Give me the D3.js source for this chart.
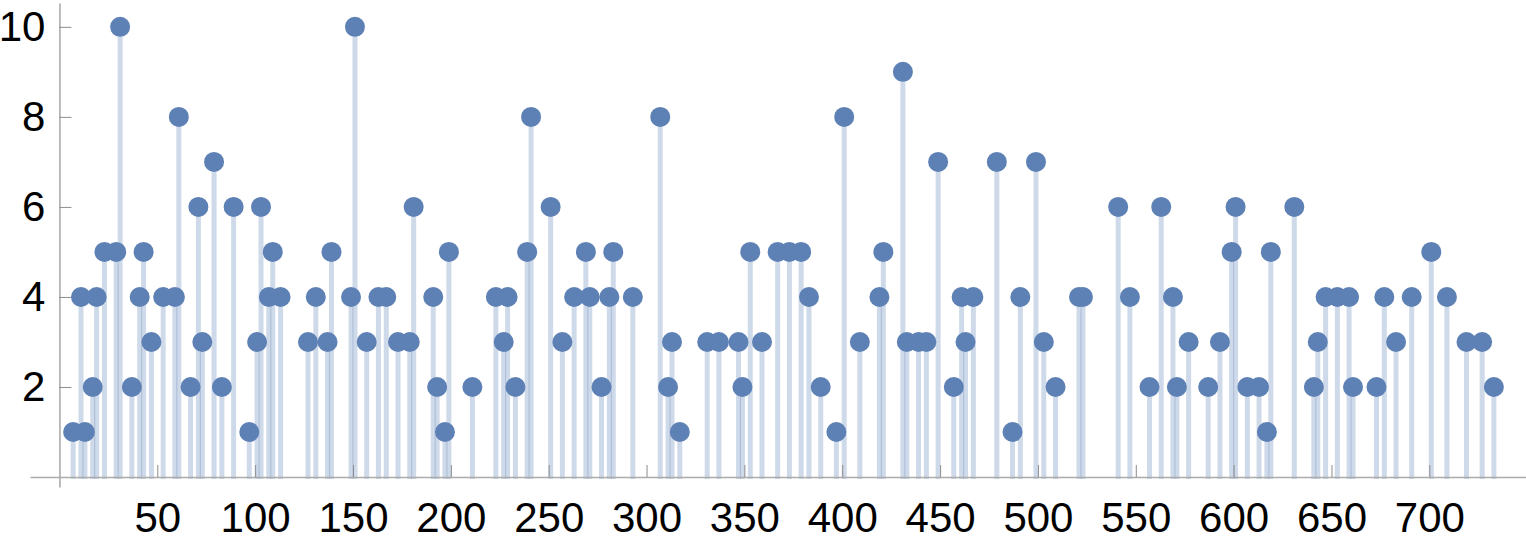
<!DOCTYPE html>
<html>
<head>
<meta charset="utf-8">
<script src="https://cdn.jsdelivr.net/npm/d3@7"></script>
<style>
  body { margin: 0; background: #fff; }
  svg { display: block; }
  .axis text { font-family: "Liberation Sans", Arial, sans-serif; font-size: 42px; fill: #000; }
</style>
</head>
<body>
<svg id="chart" width="1526" height="545"></svg>
<script>
// primes 7..733 and the stem heights
const primes = [7, 11, 13, 17, 19, 23, 29, 31, 37, 41, 43, 47, 53, 59, 61, 67, 71, 73, 79, 83, 89, 97,
  101, 103, 107, 109, 113, 127, 131, 137, 139, 149, 151, 157, 163, 167, 173, 179, 181, 191, 193, 197, 199,
  211, 223, 227, 229, 233, 239, 241, 251, 257, 263, 269, 271, 277, 281, 283, 293,
  307, 311, 313, 317, 331, 337, 347, 349, 353, 359, 367, 373, 379, 383, 389, 397,
  401, 409, 419, 421, 431, 433, 439, 443, 449, 457, 461, 463, 467, 479, 487, 491, 499,
  503, 509, 521, 523, 541, 547, 557, 563, 569, 571, 577, 587, 593, 599,
  601, 607, 613, 617, 619, 631, 641, 643, 647, 653, 659, 661, 673, 677, 683, 691,
  701, 709, 719, 727, 733];
const heights = [1, 4, 1, 2, 4, 5, 5, 10, 2, 4, 5, 3, 4, 4, 8, 2, 6, 3, 7, 2, 6, 1,
  3, 6, 4, 5, 4, 3, 4, 3, 5, 4, 10, 3, 4, 4, 3, 3, 6, 4, 2, 1, 5,
  2, 4, 3, 4, 2, 5, 8, 6, 3, 4, 5, 4, 2, 4, 5, 4,
  8, 2, 3, 1, 3, 3, 3, 2, 5, 3, 5, 5, 5, 4, 2, 1,
  8, 3, 4, 5, 9, 3, 3, 3, 7, 2, 4, 3, 4, 7, 1, 4, 7,
  3, 2, 4, 4, 6, 4, 2, 6, 4, 2, 3, 2, 3, 5,
  6, 2, 2, 1, 5, 6, 2, 3, 4, 4, 4, 2, 2, 4, 3, 4,
  5, 4, 3, 3, 2];
const xTicks = [50, 100, 150, 200, 250, 300, 350, 400, 450, 500, 550, 600, 650, 700];
const yTicks = [2, 4, 6, 8, 10];

const data = primes.map((p, i) => ({ p, v: heights[i] }));

const svg = d3.select("#chart");
const color = "#5e81b5";

const x = d3.scaleLinear().domain([-15.05, 749.4]).range([30, 1526]);
const y = d3.scaleLinear().domain([-0.222, 10.53]).range([487, 3]);

// stems
svg.append("g")
  .selectAll("line")
  .data(data)
  .join("line")
  .attr("x1", d => x(d.p))
  .attr("x2", d => x(d.p))
  .attr("y1", y(0) + 2)
  .attr("y2", d => y(d.v))
  .attr("stroke", color)
  .attr("stroke-opacity", 0.3)
  .attr("stroke-width", 5);

// axes
const xAxis = svg.append("g")
  .attr("class", "axis")
  .attr("transform", `translate(0,${y(0)})`)
  .call(d3.axisBottom(x).tickValues(xTicks).tickSize(-12).tickSizeOuter(0).tickPadding(25));

const yAxis = svg.append("g")
  .attr("class", "axis")
  .attr("transform", `translate(${x(0)},0)`)
  .call(d3.axisLeft(y).tickValues(yTicks).tickSize(-12).tickSizeOuter(0).tickPadding(14));

[xAxis, yAxis].forEach(g => {
  g.select(".domain").attr("stroke", "#ababab").attr("stroke-width", 1.6);
  g.selectAll(".tick line").attr("stroke", "#8c8c8c").attr("stroke-width", 1);
});

// dots
svg.append("g")
  .selectAll("circle")
  .data(data)
  .join("circle")
  .attr("cx", d => x(d.p))
  .attr("cy", d => y(d.v))
  .attr("r", 10)
  .attr("fill", color);
</script>
</body>
</html>
